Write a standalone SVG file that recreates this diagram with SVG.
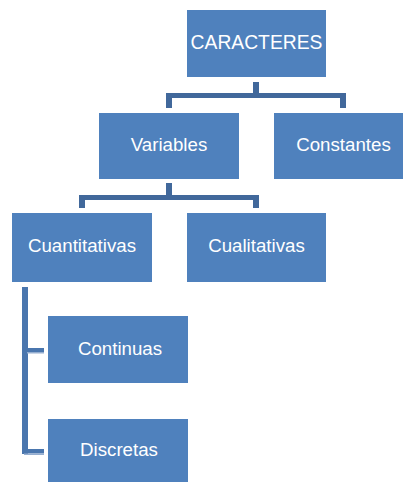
<svg xmlns="http://www.w3.org/2000/svg" width="403" height="482" viewBox="0 0 403 482">
<style>
.box{fill:#4f81bd}
.lbl{font-family:"Liberation Sans",Arial,sans-serif;font-size:18.7px;fill:#ffffff;text-anchor:middle}
.conn{fill:#41689b}
.conn2{fill:#4a76ae}
.shade{fill:#95aed0}
</style>
<rect width="403" height="482" fill="#ffffff"/>
<g id="connectors">
<rect class="conn" x="253" y="82" width="6" height="12"/>
<rect class="conn" x="166" y="93" width="180" height="5"/>
<rect class="conn" x="166" y="93" width="6" height="15"/>
<rect class="conn" x="340" y="93" width="6" height="15"/>
<rect class="conn" x="166" y="183" width="6" height="13"/>
<rect class="conn" x="79" y="195" width="180" height="5"/>
<rect class="conn" x="79" y="195" width="6" height="13"/>
<rect class="conn" x="253" y="195" width="6" height="13"/>
<rect class="conn2" x="22" y="287" width="6" height="167"/>
<rect class="conn2" x="27" y="348" width="17" height="4"/>
<rect class="shade" x="27" y="352" width="17" height="1.5"/>
<rect class="conn2" x="22" y="449" width="22" height="4.5"/>
<rect class="shade" x="24" y="453.5" width="20" height="1.5"/>
</g>
<g id="caracteres"><rect class="box" x="187" y="10" width="139" height="67"/><text class="lbl" x="256.5" y="49" style="font-size:19.3px">CARACTERES</text></g>
<g id="variables"><rect class="box" x="99" y="113" width="140" height="66"/><text class="lbl" x="169" y="151">Variables</text></g>
<g id="constantes"><rect class="box" x="274" y="113" width="139" height="66"/><text class="lbl" x="343.5" y="151">Constantes</text></g>
<g id="cuantitativas"><rect class="box" x="12" y="213" width="140" height="69"/><text class="lbl" x="82" y="252">Cuantitativas</text></g>
<g id="cualitativas"><rect class="box" x="187" y="213" width="139" height="69"/><text class="lbl" x="256.5" y="252">Cualitativas</text></g>
<g id="continuas"><rect class="box" x="48" y="316" width="140" height="67"/><text class="lbl" x="120" y="355">Continuas</text></g>
<g id="discretas"><rect class="box" x="48" y="419" width="140" height="67"/><text class="lbl" x="119" y="456">Discretas</text></g>
</svg>
